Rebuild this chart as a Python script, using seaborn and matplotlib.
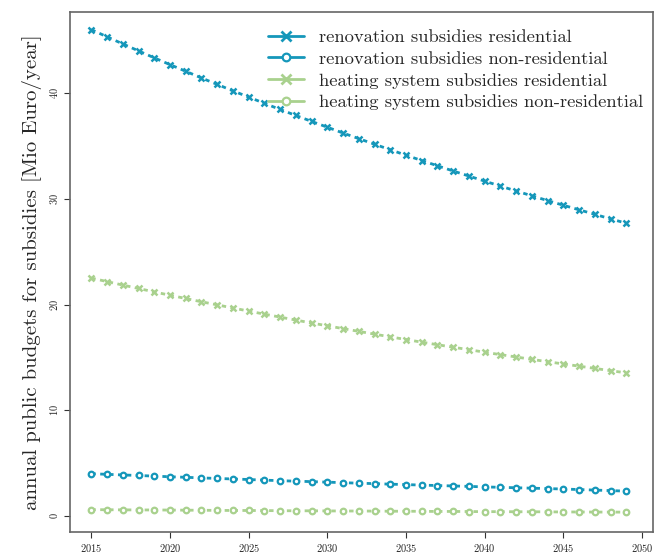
import matplotlib
matplotlib.use("Agg")
import matplotlib.pyplot as plt
from matplotlib.lines import Line2D
import seaborn as sns
import pandas as pd

years = list(range(2015, 2050))
renov_res = [46.00, 45.32, 44.65, 43.99, 43.33, 42.69, 42.06, 41.43, 40.82, 40.21,
             39.62, 39.03, 38.45, 37.88, 37.32, 36.77, 36.22, 35.69, 35.16, 34.64,
             34.12, 33.62, 33.12, 32.63, 32.15, 31.67, 31.20, 30.74, 30.28, 29.83,
             29.39, 28.96, 28.53, 28.10, 27.69]
renov_nonres = [4.00, 3.94, 3.88, 3.83, 3.77, 3.71, 3.66, 3.60, 3.55, 3.50,
                3.45, 3.39, 3.34, 3.29, 3.25, 3.20, 3.15, 3.10, 3.06, 3.01,
                2.97, 2.92, 2.88, 2.84, 2.80, 2.75, 2.71, 2.67, 2.63, 2.59,
                2.55, 2.50, 2.45, 2.40, 2.35]
heat_res = [22.50, 22.17, 21.84, 21.52, 21.19, 20.88, 20.57, 20.26, 19.97, 19.67,
            19.38, 19.09, 18.81, 18.53, 18.25, 17.99, 17.72, 17.46, 17.20, 16.94,
            16.69, 16.44, 16.20, 15.96, 15.73, 15.49, 15.26, 15.04, 14.81, 14.59,
            14.38, 14.17, 13.96, 13.74, 13.54]
heat_nonres = [0.60, 0.59, 0.58, 0.57, 0.57, 0.56, 0.55, 0.54, 0.53, 0.52,
               0.52, 0.51, 0.50, 0.49, 0.49, 0.48, 0.47, 0.47, 0.46, 0.45,
               0.45, 0.44, 0.43, 0.43, 0.42, 0.41, 0.41, 0.40, 0.40, 0.39,
               0.38, 0.38, 0.37, 0.37, 0.36]

labels = ["renovation subsidies residential",
          "renovation subsidies non-residential",
          "heating system subsidies residential",
          "heating system subsidies non-residential"]
series = [renov_res, renov_nonres, heat_res, heat_nonres]

teal = "#1597ba"
green = "#a9d18e"
colors = [teal, teal, green, green]
markers = ["x", "o", "x", "o"]

sns.set_style("ticks")
plt.rcParams["font.family"] = ["cmr10", "DejaVu Serif"]
plt.rcParams["axes.formatter.use_mathtext"] = True
plt.rcParams["mathtext.fontset"] = "cm"

fig = plt.figure(figsize=(6.55, 5.54), dpi=100)
ax = fig.add_axes([0.107, 0.040, 0.890, 0.938])

for lab, vals, c, m in zip(labels, series, colors, markers):
    df = pd.DataFrame({"year": years, "value": vals})
    kw = dict(markersize=4.6, markeredgewidth=1.8) if m == "x" else dict(markersize=4, markeredgewidth=1.6, markerfacecolor="white")
    sns.lineplot(data=df, x="year", y="value", ax=ax, color=c, marker=m,
                 markeredgecolor=c, linewidth=2, linestyle=(0, (1.6, 1.6)), **kw)

ax.set_xlim(2013.65, 2050.7)
ax.set_ylim(-1.5, 47.65)
ax.set_xticks(range(2015, 2051, 5))
ax.set_yticks(range(0, 41, 10))
ax.tick_params(axis="both", labelsize=7.5, length=4, width=0.8, color="#333333", direction="out")
for t in ax.get_yticklabels():
    t.set_rotation(90)
    t.set_va("center")
for s in ax.spines.values():
    s.set_color("#666666")
    s.set_linewidth(1.2)
ax.set_xlabel("")
ax.set_ylabel("annual public budgets for subsidies [Mio Euro/year]", fontsize=15)

handles = []
for c, m in zip(colors, markers):
    if m == "x":
        h = Line2D([], [], color=c, marker="x", markersize=7, markeredgewidth=2, linewidth=2)
    else:
        h = Line2D([], [], color=c, marker="o", markersize=5.5, markeredgewidth=1.6, markerfacecolor="white", linewidth=2)
    handles.append(h)
ax.legend(handles, labels, loc="upper right", frameon=False, fontsize=13.4,
          handlelength=1.9, labelspacing=0.3, handletextpad=0.8, borderpad=0.4,
          borderaxespad=0.3, bbox_to_anchor=(1.005, 0.992))

fig.savefig("out.png", dpi=100)
